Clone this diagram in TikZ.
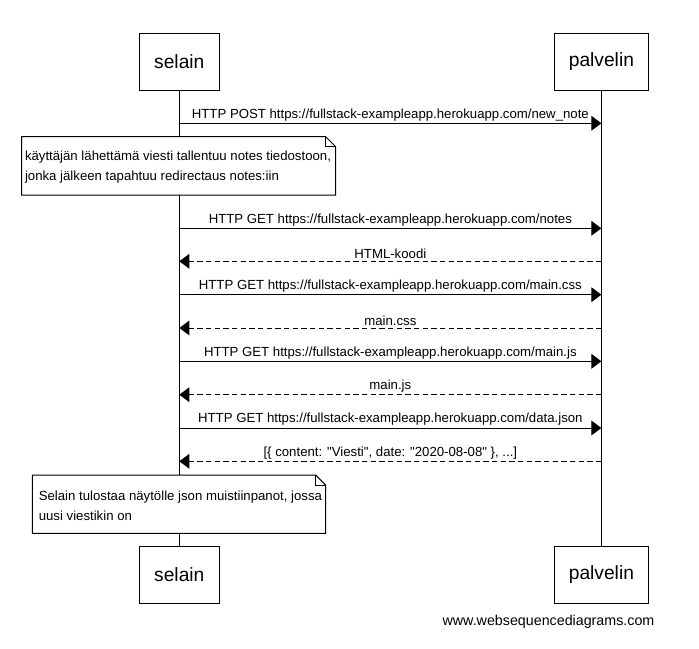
\documentclass[tikz,border=0pt]{standalone}
\usepackage{fontspec}
\setmainfont{Liberation Sans}
\newfontfamily\wsdfont{Liberation Sans}
\usetikzlibrary{arrows.meta}
\usetikzlibrary{calc}

\begin{document}
\begin{tikzpicture}[x=0.75pt, y=-0.75pt, line width=0.75pt,
	actor/.style={draw, fill=white, minimum height=43pt, font=\wsdfont\fontsize{14.4}{17}\selectfont},
	msg/.style={-{Triangle[length=7.5pt, width=11pt]}},
	reply/.style={msg, dash pattern=on 4pt off 2.5pt},
	lbl/.style={above, inner sep=1.5pt, font=\wsdfont\fontsize{9.9}{11}\selectfont},
	notetext/.style={anchor=west, align=left, inner sep=0pt, font=\wsdfont\fontsize{9.9}{15}\selectfont}]
	\useasboundingbox (0,0) rectangle (699,649);
	\node[actor, minimum width=60pt] (selainTop) at (179.3, 62) {selain};
	\node[actor, minimum width=70.8pt] (palvelinTop) at (601.4, 62) {palvelin};
	\node[actor, minimum width=60pt] (selainBot) at (179.3, 574.7) {selain};
	\node[actor, minimum width=70.8pt] (palvelinBot) at (601.4, 574.7) {palvelin};
	\draw (selainTop) -- (selainBot);
	\draw (palvelinTop) -- (palvelinBot);
	\coordinate (s1) at (179.3, 123.3);
	\coordinate (p1) at (601.4, 123.3);
	\coordinate (s2) at (179.3, 228.3);
	\coordinate (p2) at (601.4, 228.3);
	\coordinate (s3) at (179.3, 261.3);
	\coordinate (p3) at (601.4, 261.3);
	\coordinate (s4) at (179.3, 294.7);
	\coordinate (p4) at (601.4, 294.7);
	\coordinate (s5) at (179.3, 328);
	\coordinate (p5) at (601.4, 328);
	\coordinate (s6) at (179.3, 361.3);
	\coordinate (p6) at (601.4, 361.3);
	\coordinate (s7) at (179.3, 394.7);
	\coordinate (p7) at (601.4, 394.7);
	\coordinate (s8) at (179.3, 428);
	\coordinate (p8) at (601.4, 428);
	\coordinate (s9) at (179.3, 461.3);
	\coordinate (p9) at (601.4, 461.3);
	\draw[msg] (s1) -- node[lbl] {HTTP POST https://fullstack-exampleapp.herokuapp.com/new\_note} (p1);
	\coordinate (n1) at (21.7, 136.7);
	\coordinate (n1b) at (335.7, 195);
	\draw[fill=white] (n1) -- ($(n1 -| n1b)+(-10,0)$) -- ($(n1 -| n1b)+(0,10)$) -- (n1b) -| (n1) -- cycle;
	\draw ($(n1 -| n1b)+(-10,0)$) |- ($(n1 -| n1b)+(0,10)$);
	\node[notetext] (note1) at (24.5, 167.5) {käyttäjän lähettämä viesti tallentuu notes tiedostoon,\\jonka jälkeen tapahtuu redirectaus notes:iin};
	\draw[msg] (s2) -- node[lbl] {HTTP GET https://fullstack-exampleapp.herokuapp.com/notes} (p2);
	\draw[reply] (p3) -- node[lbl] {HTML-koodi} (s3);
	\draw[msg] (s4) -- node[lbl] {HTTP GET https://fullstack-exampleapp.herokuapp.com/main.css} (p4);
	\draw[reply] (p5) -- node[lbl] {main.css} (s5);
	\draw[msg] (s6) -- node[lbl] {HTTP GET https://fullstack-exampleapp.herokuapp.com/main.js} (p6);
	\draw[reply] (p7) -- node[lbl] {main.js} (s7);
	\draw[msg] (s8) -- node[lbl] {HTTP GET https://fullstack-exampleapp.herokuapp.com/data.json} (p8);
	\draw[reply] (p9) -- node[lbl] {[\{ content: "Viesti", date: "2020-08-08" \}, ...]} (s9);
	\coordinate (n2) at (32.3, 475);
	\coordinate (n2b) at (325.7, 533.3);
	\draw[fill=white] (n2) -- ($(n2 -| n2b)+(-10,0)$) -- ($(n2 -| n2b)+(0,10)$) -- (n2b) -| (n2) -- cycle;
	\draw ($(n2 -| n2b)+(-10,0)$) |- ($(n2 -| n2b)+(0,10)$);
	\node[notetext] (note2) at (38.3, 505.5) {Selain tulostaa näytölle json muistiinpanot, jossa\\uusi viestikin on};
	\node[font=\wsdfont\fontsize{10.7}{12}\selectfont] (footer) at (548.5, 621.7) {www.websequencediagrams.com};
\end{tikzpicture}
\end{document}
